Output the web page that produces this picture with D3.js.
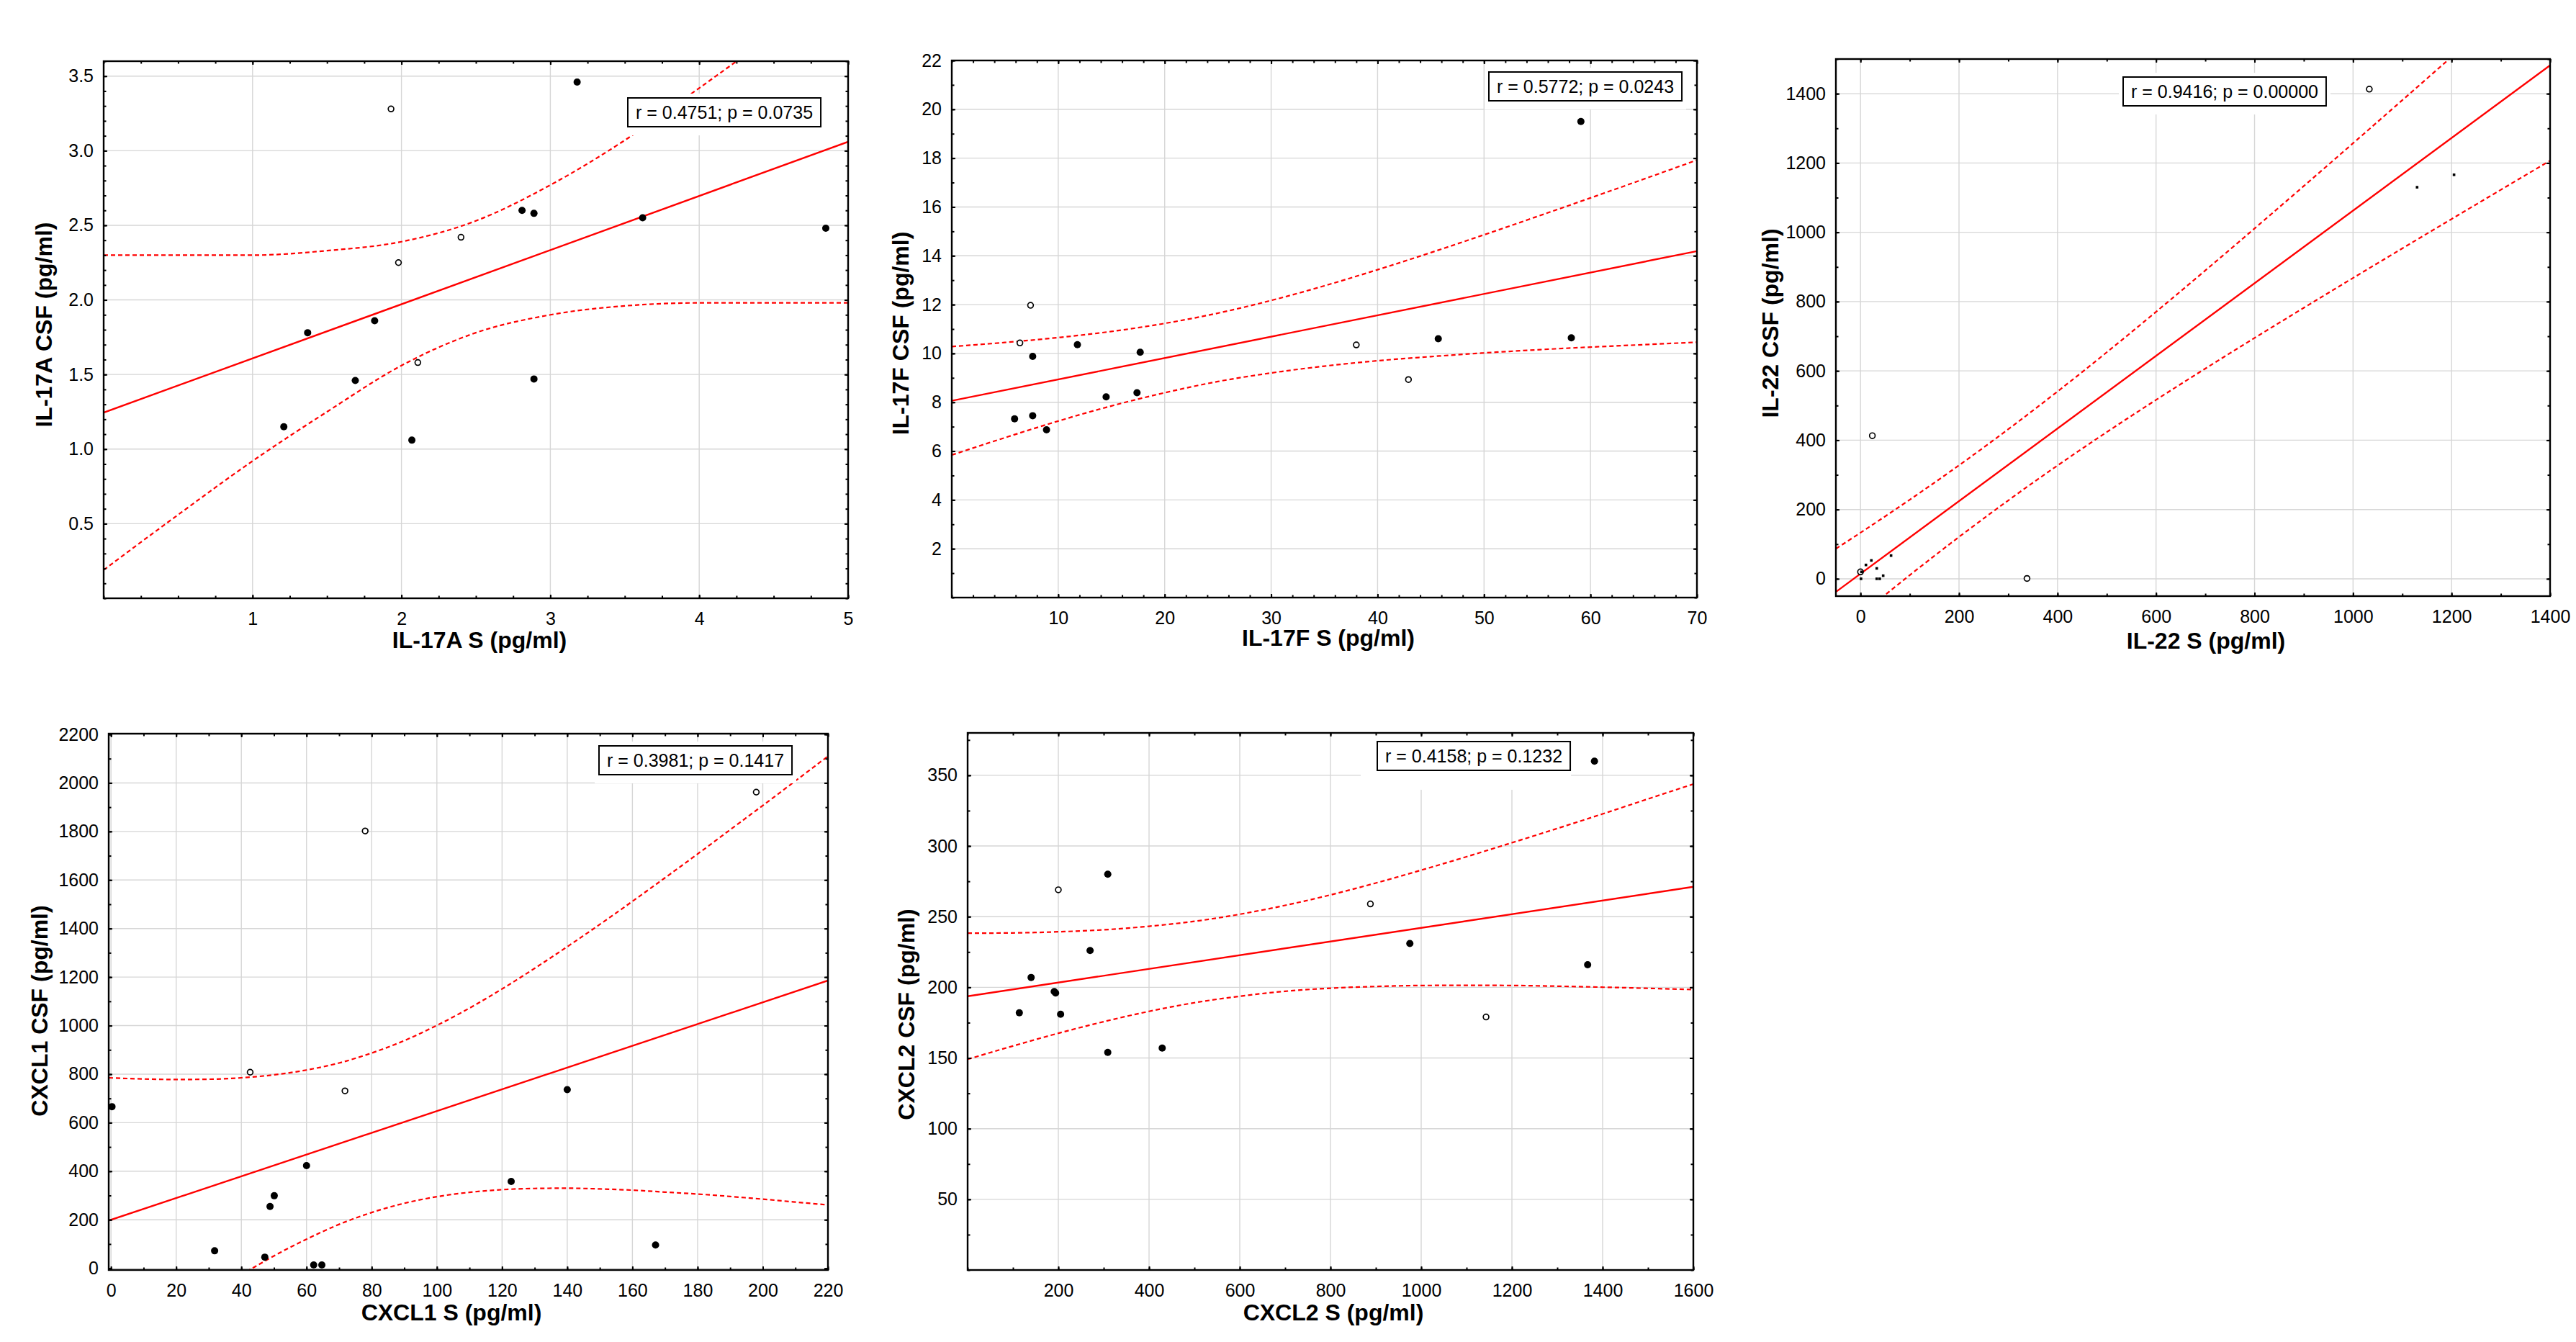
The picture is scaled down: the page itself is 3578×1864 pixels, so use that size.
<!DOCTYPE html>
<html>
<head>
<meta charset="utf-8">
<script src="https://cdn.jsdelivr.net/npm/d3@7"></script>
<style>
html,body{margin:0;padding:0;background:#fff;}
svg{display:block;}
</style>
</head>
<body>
<svg id="chart" width="3578" height="1864"></svg>
<script>
// ---------------- DATA ----------------
// Panel 1: IL-17A
const p1X = [3.18, 2.81, 2.89, 3.62, 4.85, 1.82, 1.37, 1.69, 2.89, 1.21, 2.07, 1.93, 2.40, 1.98, 2.11];
const p1Y = [3.46, 2.60, 2.58, 2.55, 2.48, 1.86, 1.78, 1.46, 1.47, 1.15, 1.06, 3.28, 2.42, 2.25, 1.58];
const p1Open = [0,0,0,0,0,0,0,0,0,0,0,1,1,1,1];
const p1FitX = [0, 5];
const p1FitY = [1.245, 3.06];
const p1BandX = [0, 0.5, 1, 1.5, 2, 2.5, 3, 3.5, 4, 4.5, 5];
const p1Upper = [2.30, 2.30, 2.30, 2.33, 2.39, 2.53, 2.77, 3.07, 3.42, 3.78, 4.14];
const p1Lower = [0.19, 0.56, 0.92, 1.25, 1.56, 1.78, 1.90, 1.96, 1.98, 1.98, 1.98];
const p1XTicks = [1, 2, 3, 4, 5];
const p1YTicks = [0.5, 1.0, 1.5, 2.0, 2.5, 3.0, 3.5];
const p1Stat = "r = 0.4751; p = 0.0735";

// Panel 2: IL-17F
const p2X = [59.1, 58.2, 45.7, 11.8, 17.7, 7.6, 14.5, 17.4, 5.9, 7.6, 8.9, 7.4, 6.4, 38.0, 42.9];
const p2Y = [19.5, 10.64, 10.6, 10.36, 10.05, 9.88, 8.22, 8.39, 7.32, 7.45, 6.87, 11.97, 10.43, 10.35, 8.93];
const p2Open = [0,0,0,0,0,0,0,0,0,0,0,1,1,1,1];
const p2FitX = [0, 70];
const p2FitY = [8.06, 14.19];
const p2BandX = [0, 5, 10, 15, 20, 25, 30, 35, 40, 45, 50, 55, 60, 65, 70];
const p2Upper = [10.28, 10.45, 10.65, 10.90, 11.23, 11.65, 12.17, 12.77, 13.43, 14.13, 14.86, 15.61, 16.37, 17.14, 17.92];
const p2Lower = [5.84, 6.55, 7.23, 7.85, 8.39, 8.85, 9.20, 9.48, 9.70, 9.87, 10.02, 10.15, 10.26, 10.36, 10.46];
const p2XTicks = [10, 20, 30, 40, 50, 60, 70];
const p2YTicks = [2, 4, 6, 8, 10, 12, 14, 16, 18, 20, 22];
const p2Stat = "r = 0.5772; p = 0.0243";

// Panel 3: IL-22
const p3X = [1033, 24, 338, 0, 1130, 1205, 11, 22, 33, 62, 46, 33, 39, 1, 2];
const p3Y = [1413, 413, 1, 20, 1130, 1166, 40, 53, 30, 67, 9, 0, 0, 0, 20];
const p3Open = [1,1,1,1,0,0,0,0,0,0,0,0,0,0,0];
const p3FitX = [-50, 1400];
const p3FitY = [-37.8, 1481.8];
const p3BandX = [-50, 0, 100, 200, 300, 400, 500, 600, 700, 800, 900, 1000, 1100, 1200, 1300, 1400];
const p3Upper = [86.7, 133.1, 228.3, 327.6, 431.7, 540.6, 653.8, 770.5, 889.8, 1011, 1133.5, 1257, 1381.3, 1506.1, 1631.3, 1756.8];
const p3Lower = [-162.3, -103.9, 10.5, 120.8, 226.3, 327, 423.4, 516.3, 606.6, 695, 782.1, 868.2, 953.5, 1038.3, 1122.7, 1206.8];
const p3XTicks = [0, 200, 400, 600, 800, 1000, 1200, 1400];
const p3YTicks = [0, 200, 400, 600, 800, 1000, 1200, 1400];
const p3Stat = "r = 0.9416; p = 0.00000";

// Panel 4: CXCL1
const p4X = [198, 78, 42.7, 71.8, 0.3, 140, 60, 122.8, 50.1, 48.8, 31.8, 47.2, 62.2, 64.7, 167.1];
const p4Y = [1962, 1802, 808, 731, 666, 736, 423, 358, 299, 255, 72, 46, 14, 14, 96];
const p4Open = [1,1,1,1,0,0,0,0,0,0,0,0,0,0,0];
const p4FitX = [-0.7, 220];
const p4FitY = [196.7, 1185.6];
const p4BandX = [-0.7, 10, 20, 30, 40, 50, 60, 70, 80, 90, 100, 110, 120, 130, 140, 150, 160, 170, 180, 190, 200, 210, 220];
const p4Upper = [785, 780, 778, 779, 785, 797, 817, 846, 887, 938, 1001, 1072, 1151, 1236, 1325, 1417, 1512, 1609, 1707, 1807, 1907, 2008, 2110];
const p4Lower = [-392, -291, -199, -111, -27, 51, 120, 181, 230, 268, 295, 313, 324, 329, 330, 327, 322, 314, 306, 296, 285, 273, 261];
const p4XTicks = [0, 20, 40, 60, 80, 100, 120, 140, 160, 180, 200, 220];
const p4YTicks = [0, 200, 400, 600, 800, 1000, 1200, 1400, 1600, 1800, 2000, 2200];
const p4Stat = "r = 0.3981; p = 0.1417";

// Panel 5: CXCL2
const p5X = [1382, 309, 270, 975, 1367, 140, 191, 194, 114, 205, 309, 429, 200, 888, 1143];
const p5Y = [360, 280, 226, 231, 216, 207, 197, 196, 182, 181, 154, 157, 269, 259, 179];
const p5Open = [0,0,0,0,0,0,0,0,0,0,0,0,1,1,1];
const p5FitX = [0, 1600];
const p5FitY = [193.7, 271.1];
const p5BandX = [0, 100, 200, 300, 400, 500, 600, 700, 800, 900, 1000, 1100, 1200, 1300, 1400, 1500, 1600];
const p5Upper = [238.3, 238.5, 239.3, 240.7, 243.2, 246.7, 251.7, 258.0, 265.4, 273.8, 282.9, 292.4, 302.3, 312.4, 322.7, 333.3, 343.8];
const p5Lower = [149.1, 158.5, 167.5, 175.7, 183.0, 189.1, 193.7, 197.2, 199.4, 200.6, 201.3, 201.4, 201.3, 200.8, 200.1, 199.3, 198.4];
const p5XTicks = [200, 400, 600, 800, 1000, 1200, 1400, 1600];
const p5YTicks = [50, 100, 150, 200, 250, 300, 350];
const p5Stat = "r = 0.4158; p = 0.1232";

// ---------------- LAYOUT ----------------
const FONT = "'Liberation Sans', Arial, Helvetica, sans-serif";
const fInt = d3.format("d");
const panels = [
  {id:1, left:144, right:1178, top:85, bottom:831, xDomain:[0,5], yDomain:[0,3.6],
   xTicks:p1XTicks, yTicks:p1YTicks, xMinor:0.25, yMinor:0.1, xFmt:fInt, yFmt:d3.format(".1f"),
   X:p1X, Y:p1Y, open:p1Open, fitX:p1FitX, fitY:p1FitY, bandX:p1BandX, upper:p1Upper, lower:p1Lower,
   stat:p1Stat, box:[872,136], pad:{l:6,r:6,t:6,b:12}, square:false,
   xTitle:"IL-17A S (pg/ml)", yTitle:"IL-17A CSF (pg/ml)", xTitlePos:[666,900], yTitlePos:[72,451]},
  {id:2, left:1322, right:2357, top:84, bottom:830, xDomain:[0,70], yDomain:[0,22],
   xTicks:p2XTicks, yTicks:p2YTicks, xMinor:2, yMinor:1, xFmt:fInt, yFmt:fInt,
   X:p2X, Y:p2Y, open:p2Open, fitX:p2FitX, fitY:p2FitY, bandX:p2BandX, upper:p2Upper, lower:p2Lower,
   stat:p2Stat, box:[2068,100], pad:{l:6,r:6,t:6,b:12}, square:false,
   xTitle:"IL-17F S (pg/ml)", yTitle:"IL-17F CSF (pg/ml)", xTitlePos:[1845,897], yTitlePos:[1262,463]},
  {id:3, left:2550, right:3542, top:82, bottom:828, xDomain:[-50,1400], yDomain:[-50,1500],
   xTicks:p3XTicks, yTicks:p3YTicks, xMinor:100, yMinor:100, xFmt:fInt, yFmt:fInt,
   X:p3X, Y:p3Y, open:p3Open, fitX:p3FitX, fitY:p3FitY, bandX:p3BandX, upper:p3Upper, lower:p3Lower,
   stat:p3Stat, box:[2949,107], pad:{l:6,r:6,t:6,b:12}, square:true,
   xTitle:"IL-22 S (pg/ml)", yTitle:"IL-22 CSF (pg/ml)", xTitlePos:[3064,901], yTitlePos:[2470,449]},
  {id:4, left:151, right:1150, top:1019, bottom:1764, xDomain:[-0.7,220], yDomain:[-7,2203],
   xTicks:p4XTicks, yTicks:p4YTicks, xMinor:10, yMinor:100, xFmt:fInt, yFmt:fInt,
   X:p4X, Y:p4Y, open:p4Open, fitX:p4FitX, fitY:p4FitY, bandX:p4BandX, upper:p4Upper, lower:p4Lower,
   stat:p4Stat, box:[832,1036], pad:{l:6,r:6,t:6,b:12}, square:false,
   xTitle:"CXCL1 S (pg/ml)", yTitle:"CXCL1 CSF (pg/ml)", xTitlePos:[627,1834], yTitlePos:[66,1404]},
  {id:5, left:1344, right:2352, top:1018, bottom:1764, xDomain:[0,1600], yDomain:[0,380],
   xTicks:p5XTicks, yTicks:p5YTicks, xMinor:100, yMinor:25, xFmt:fInt, yFmt:fInt,
   X:p5X, Y:p5Y, open:p5Open, fitX:p5FitX, fitY:p5FitY, bandX:p5BandX, upper:p5Upper, lower:p5Lower,
   stat:p5Stat, box:[1913,1030], pad:{l:23,r:1,t:6,b:27}, square:false,
   xTitle:"CXCL2 S (pg/ml)", yTitle:"CXCL2 CSF (pg/ml)", xTitlePos:[1852,1834], yTitlePos:[1270,1409]}
];

const svg = d3.select("#chart");
svg.append("rect").attr("width",3578).attr("height",1864).attr("fill","#fff");
const defs = svg.append("defs");

function minorRange(dom, step){
  const start = Math.ceil(dom[0]/step - 1e-9)*step;
  return d3.range(start, dom[1] + step*1e-6, step);
}

function styleAxis(sel){
  sel.select(".domain").remove();
  sel.attr("font-size", 25).attr("font-family", FONT);
  sel.selectAll(".tick line").attr("stroke","#000").attr("stroke-width",2);
  sel.selectAll(".tick text").attr("fill","#000");
}

panels.forEach(p => {
  const x = d3.scaleLinear().domain(p.xDomain).range([p.left, p.right]);
  const y = d3.scaleLinear().domain(p.yDomain).range([p.bottom, p.top]);
  const g = svg.append("g").attr("class","panel"+p.id);
  const clipId = "clip" + p.id;
  defs.append("clipPath").attr("id", clipId).append("rect")
    .attr("x", p.left).attr("y", p.top).attr("width", p.right - p.left).attr("height", p.bottom - p.top);

  // gridlines
  g.append("g").selectAll("line").data(p.xTicks).join("line")
    .attr("x1", d => x(d)).attr("x2", d => x(d)).attr("y1", p.top).attr("y2", p.bottom)
    .attr("stroke", "#d6d6d6").attr("stroke-width", 1.4);
  g.append("g").selectAll("line").data(p.yTicks).join("line")
    .attr("y1", d => y(d)).attr("y2", d => y(d)).attr("x1", p.left).attr("x2", p.right)
    .attr("stroke", "#d6d6d6").attr("stroke-width", 1.4);

  // regression line and confidence band
  const plot = g.append("g").attr("clip-path", `url(#${clipId})`);
  const line = d3.line().x(d => x(d[0])).y(d => y(d[1])).curve(d3.curveMonotoneX);
  plot.append("path").datum(d3.zip(p.bandX, p.upper)).attr("d", line)
    .attr("fill","none").attr("stroke","#ff0000").attr("stroke-width",2.2).attr("stroke-dasharray","6,4");
  plot.append("path").datum(d3.zip(p.bandX, p.lower)).attr("d", line)
    .attr("fill","none").attr("stroke","#ff0000").attr("stroke-width",2.2).attr("stroke-dasharray","6,4");
  plot.append("path").datum(d3.zip(p.fitX, p.fitY)).attr("d", d3.line().x(d => x(d[0])).y(d => y(d[1])))
    .attr("fill","none").attr("stroke","#ff0000").attr("stroke-width",2.4);

  // statistics box
  const bg = g.append("rect");
  const box = g.append("rect");
  const txt = g.append("text").attr("font-family", FONT).attr("font-size", 25).attr("fill","#000")
    .attr("x", p.box[0] + 11).attr("y", p.box[1] + 20).attr("dy","0.36em").text(p.stat);
  const tw = txt.node().getComputedTextLength();
  const bw = tw + 22, bh = 40;
  bg.attr("x", p.box[0] - p.pad.l).attr("y", p.box[1] - p.pad.t)
    .attr("width", bw + p.pad.l + p.pad.r).attr("height", bh + p.pad.t + p.pad.b).attr("fill","#fff");
  box.attr("x", p.box[0]).attr("y", p.box[1]).attr("width", bw).attr("height", bh)
    .attr("fill","#fff").attr("stroke","#000").attr("stroke-width",2);

  // frame
  g.append("rect").attr("x", p.left).attr("y", p.top).attr("width", p.right - p.left).attr("height", p.bottom - p.top)
    .attr("fill","none").attr("stroke","#000").attr("stroke-width",2.4);

  // axes: labelled major ticks (inward) and minor ticks on all four sides
  const xm = minorRange(p.xDomain, p.xMinor), ym = minorRange(p.yDomain, p.yMinor);
  g.append("g").attr("transform", `translate(0,${p.bottom})`)
    .call(d3.axisBottom(x).tickValues(p.xTicks).tickSizeInner(-5).tickSizeOuter(0).tickPadding(19).tickFormat(p.xFmt))
    .call(styleAxis);
  g.append("g").attr("transform", `translate(0,${p.bottom})`)
    .call(d3.axisBottom(x).tickValues(xm).tickSizeInner(-3.5).tickSizeOuter(0).tickFormat(""))
    .call(styleAxis);
  g.append("g").attr("transform", `translate(0,${p.top})`)
    .call(d3.axisTop(x).tickValues(p.xTicks).tickSizeInner(-5).tickSizeOuter(0).tickFormat(""))
    .call(styleAxis);
  g.append("g").attr("transform", `translate(0,${p.top})`)
    .call(d3.axisTop(x).tickValues(xm).tickSizeInner(-3.5).tickSizeOuter(0).tickFormat(""))
    .call(styleAxis);
  g.append("g").attr("transform", `translate(${p.left},0)`)
    .call(d3.axisLeft(y).tickValues(p.yTicks).tickSizeInner(-5).tickSizeOuter(0).tickPadding(14).tickFormat(p.yFmt))
    .call(styleAxis);
  g.append("g").attr("transform", `translate(${p.left},0)`)
    .call(d3.axisLeft(y).tickValues(ym).tickSizeInner(-3.5).tickSizeOuter(0).tickFormat(""))
    .call(styleAxis);
  g.append("g").attr("transform", `translate(${p.right},0)`)
    .call(d3.axisRight(y).tickValues(p.yTicks).tickSizeInner(-5).tickSizeOuter(0).tickFormat(""))
    .call(styleAxis);
  g.append("g").attr("transform", `translate(${p.right},0)`)
    .call(d3.axisRight(y).tickValues(ym).tickSizeInner(-3.5).tickSizeOuter(0).tickFormat(""))
    .call(styleAxis);

  // points
  const pts = d3.range(p.X.length).map(i => ({x: p.X[i], y: p.Y[i], open: p.open[i]}));
  const pg = g.append("g");
  pg.selectAll("circle.open").data(pts.filter(d => d.open)).join("circle").attr("class","open")
    .attr("cx", d => x(d.x)).attr("cy", d => y(d.y)).attr("r", 3.9)
    .attr("fill","#fff").attr("stroke","#000").attr("stroke-width",1.7);
  if (p.square) {
    pg.selectAll("rect.fill").data(pts.filter(d => !d.open)).join("rect").attr("class","fill")
      .attr("x", d => x(d.x) - 1.8).attr("y", d => y(d.y) - 1.8).attr("width", 3.6).attr("height", 3.6)
      .attr("fill","#000");
  } else {
    pg.selectAll("circle.fill").data(pts.filter(d => !d.open)).join("circle").attr("class","fill")
      .attr("cx", d => x(d.x)).attr("cy", d => y(d.y)).attr("r", 5).attr("fill","#000");
  }

  // axis titles
  g.append("text").attr("font-family", FONT).attr("font-size", 32).attr("font-weight","bold")
    .attr("text-anchor","middle").attr("x", p.xTitlePos[0]).attr("y", p.xTitlePos[1]).text(p.xTitle);
  g.append("text").attr("font-family", FONT).attr("font-size", 32).attr("font-weight","bold")
    .attr("text-anchor","middle")
    .attr("transform", `translate(${p.yTitlePos[0]},${p.yTitlePos[1]}) rotate(-90)`).text(p.yTitle);
});
</script>
</body>
</html>
